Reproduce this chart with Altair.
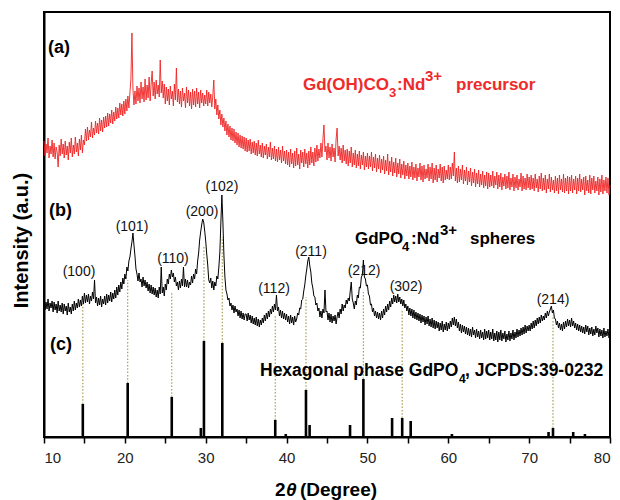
import altair as alt
import pandas as pd

FONT = "Liberation Sans, Arial, Helvetica, sans-serif"

# sampling grid of the two measured patterns: 10.000 ... 80.000 deg, 0.125 deg step
two_theta = [10 + 0.125 * i for i in range(561)]

# (a) Gd(OH)CO3:Nd3+ precursor, intensity (a.u.), one row per 5 degrees
precursor = (
    [296, 281, 293, 284, 299, 279, 291, 283, 297, 280, 294, 278, 290, 285, 270, 292, 281, 298, 283, 293,
     279, 296, 282, 291, 277, 295, 284, 299, 280, 292, 283, 300, 285, 294, 281, 298, 287, 302, 284, 297]
    + [292, 308, 296, 310, 297, 307, 300, 315, 299, 309, 302, 316, 304, 314, 303, 319, 306, 317, 305, 320,
       309, 321, 310, 324, 311, 323, 314, 327, 313, 325, 316, 330, 318, 329, 319, 334, 322, 333, 321, 336]
    + [323, 338, 326, 341, 329, 344, 358, 404, 348, 332, 346, 333, 351, 336, 349, 334, 355, 338, 350, 335,
       358, 337, 352, 339, 360, 336, 353, 366, 341, 355, 338, 357, 343, 352, 340, 377, 344, 356, 339, 353]
    + [333, 350, 336, 348, 332, 351, 338, 346, 331, 353, 337, 369, 335, 348, 333, 346, 330, 349, 336, 344,
       329, 350, 334, 347, 331, 345, 328, 348, 332, 346, 330, 349, 333, 345, 329, 347, 334, 344, 331, 342]
    + [333, 347, 331, 345, 334, 343, 330, 341, 357, 328, 338, 322, 332, 318, 327, 312, 323, 310, 319, 306,
       316, 302, 313, 300, 311, 297, 309, 296, 308, 294, 305, 292, 304, 290, 302, 289, 301, 288, 300, 286]
    + [299, 285, 297, 286, 298, 283, 295, 284, 296, 282, 294, 281, 297, 283, 292, 280, 294, 279, 291, 282,
       293, 278, 290, 280, 295, 277, 289, 278, 291, 276, 288, 275, 290, 277, 287, 274, 291, 276, 286, 273]
    + [287, 272, 285, 270, 288, 273, 284, 269, 286, 271, 289, 272, 283, 268, 287, 274, 285, 270, 288, 273,
       284, 269, 286, 272, 290, 274, 285, 271, 289, 275, 292, 276, 288, 279, 294, 280, 298, 312, 285, 291]
    + [277, 294, 279, 290, 276, 293, 280, 289, 275, 298, 309, 281, 291, 277, 289, 274, 292, 276, 287, 273,
       288, 271, 286, 274, 290, 270, 284, 272, 287, 269, 283, 271, 286, 268, 282, 272, 285, 267, 281, 270]
    + [284, 268, 281, 270, 285, 266, 280, 269, 283, 265, 279, 268, 282, 264, 278, 267, 281, 263, 277, 266,
       283, 262, 276, 265, 280, 261, 275, 264, 279, 260, 274, 263, 278, 259, 273, 262, 276, 258, 272, 261]
    + [274, 258, 271, 260, 275, 257, 270, 259, 273, 256, 269, 260, 274, 257, 271, 255, 272, 258, 268, 259,
       273, 256, 270, 258, 274, 254, 269, 257, 272, 255, 268, 259, 273, 256, 270, 254, 271, 257, 267, 258]
    + [272, 257, 270, 258, 274, 261, 285, 256, 269, 254, 271, 255, 268, 257, 272, 253, 267, 256, 270, 252,
       266, 255, 269, 251, 265, 254, 268, 250, 264, 253, 267, 250, 263, 252, 266, 249, 262, 251, 265, 248]
    + [264, 250, 262, 251, 266, 249, 261, 252, 265, 248, 262, 250, 264, 247, 260, 251, 263, 248, 261, 249,
       265, 247, 259, 250, 263, 246, 260, 249, 262, 247, 258, 250, 264, 246, 261, 248, 259, 247, 263, 249]
    + [260, 247, 262, 248, 259, 246, 263, 249, 258, 245, 261, 248, 264, 246, 259, 247, 262, 244, 258, 248,
       263, 245, 260, 247, 257, 244, 261, 246, 259, 243, 262, 247, 258, 245, 263, 244, 259, 246, 261, 243]
    + [260, 246, 262, 244, 258, 247, 261, 243, 259, 246, 263, 245, 258, 247, 260, 242, 261, 246, 257, 244,
       262, 243, 259, 247, 261, 244, 256, 246, 260, 242, 258, 245, 262, 243, 257, 246, 260, 244, 259, 242]
    + [252]
)

# (b) GdPO4:Nd3+ spheres
spheres = (
    [137, 127, 135, 128, 138, 126, 134, 129, 136, 125, 135, 127, 133, 124, 136, 126, 132, 125, 134, 123,
     133, 126, 131, 122, 134, 125, 130, 123, 133, 126, 136, 127, 134, 129, 138, 130, 137, 131, 141, 133]
    + [144, 134, 142, 135, 143, 133, 141, 136, 145, 138, 157, 134, 140, 131, 139, 132, 141, 130, 138, 133,
       141, 132, 143, 134, 142, 136, 145, 135, 144, 138, 147, 139, 150, 142, 152, 145, 155, 148, 159, 153]
    + [163, 158, 170, 166, 176, 180, 188, 195, 204, 192, 181, 168, 163, 156, 164, 155, 158, 150, 160, 151,
       157, 149, 155, 146, 153, 144, 152, 143, 150, 142, 149, 140, 147, 139, 150, 143, 170, 144, 150, 141]
    + [153, 147, 158, 153, 163, 158, 167, 160, 164, 155, 160, 151, 155, 147, 156, 149, 158, 151, 170, 150,
       158, 150, 157, 149, 155, 152, 161, 154, 163, 158, 168, 163, 176, 184, 197, 205, 212, 218, 215, 206]
    + [196, 183, 172, 157, 154, 159, 149, 156, 147, 155, 151, 161, 158, 170, 185, 215, 242, 215, 182, 160,
       147, 143, 137, 139, 131, 134, 127, 132, 124, 131, 125, 128, 121, 127, 119, 126, 118, 124, 117, 123]
    + [123, 116, 124, 117, 122, 114, 121, 113, 119, 112, 120, 111, 118, 110, 117, 112, 119, 114, 122, 116,
       124, 118, 126, 120, 128, 123, 131, 125, 133, 127, 142, 126, 130, 121, 127, 119, 126, 118, 124, 117]
    + [123, 115, 121, 113, 122, 114, 120, 112, 121, 115, 118, 124, 122, 129, 128, 137, 138, 146, 152, 161,
       168, 176, 180, 171, 165, 154, 149, 141, 140, 132, 134, 126, 129, 120, 126, 119, 128, 124, 147, 125]
    + [126, 117, 124, 115, 123, 114, 121, 116, 122, 113, 120, 125, 119, 128, 123, 133, 126, 132, 129, 137,
       133, 139, 136, 146, 155, 138, 134, 128, 136, 132, 142, 139, 150, 149, 160, 162, 177, 160, 158, 151]
    + [152, 143, 141, 132, 133, 125, 129, 121, 126, 119, 125, 118, 124, 117, 126, 119, 128, 122, 131, 125,
       133, 127, 136, 130, 139, 133, 142, 135, 141, 134, 143, 135, 140, 133, 138, 131, 137, 129, 133, 126]
    + [131, 122, 129, 121, 128, 119, 127, 118, 125, 117, 124, 116, 123, 114, 122, 115, 121, 112, 120, 113,
       121, 111, 118, 110, 119, 109, 117, 108, 116, 109, 115, 106, 114, 107, 116, 105, 113, 107, 115, 106]
    + [114, 108, 116, 110, 119, 112, 120, 111, 118, 109, 115, 106, 113, 104, 112, 105, 111, 103, 110, 102,
       109, 101, 108, 100, 110, 102, 107, 99, 108, 100, 106, 98, 107, 99, 105, 97, 108, 98, 106, 99]
    + [107, 97, 105, 98, 108, 96, 104, 97, 106, 95, 105, 97, 107, 96, 104, 98, 106, 95, 103, 97,
       106, 96, 104, 98, 107, 97, 105, 99, 108, 100, 107, 101, 109, 102, 110, 103, 112, 104, 111, 106]
    + [112, 106, 114, 108, 116, 109, 117, 111, 119, 113, 120, 114, 122, 116, 121, 117, 124, 119, 126, 121,
       125, 128, 131, 124, 127, 119, 118, 112, 116, 109, 114, 107, 113, 106, 115, 108, 116, 110, 118, 111]
    + [117, 110, 119, 111, 116, 109, 114, 107, 113, 106, 112, 105, 111, 104, 110, 103, 112, 105, 111, 102,
       109, 103, 110, 101, 108, 102, 111, 104, 109, 100, 108, 101, 107, 99, 109, 100, 106, 101, 108, 99]
    + [104]
)

# (c) JCPDS 39-0232 reference lines
stick_pos = [14.8, 20.35, 25.8, 29.4, 29.78, 32.05, 38.6, 39.9, 42.4, 42.85, 47.85,
             49.5, 53.05, 54.3, 55.35, 60.45, 63.25, 72.4, 72.95, 75.45, 76.9]
stick_int = [33, 54, 40, 9, 96, 94, 17, 3, 47, 12, 12, 58, 19, 19, 16, 3, 1, 5, 9, 5, 3]

# hkl indexing
hkl_text = ["(100)", "(101)", "(110)", "(200)", "(102)", "(112)", "(211)", "(212)", "(302)", "(214)"]
hkl_x = [14.33, 20.88, 25.95, 29.54, 32.01, 38.45, 43.02, 49.58, 54.77, 72.95]
hkl_y = [165, 210, 178, 225, 250, 148, 185, 166, 150, 137]
guide_x = [14.8, 20.35, 25.8, 29.78, 32.05, 38.6, 42.4, 49.5, 54.3, 72.95]
guide_top = [135, 157, 144, 190, 200, 122, 140, 145, 127, 120]
guide_bottom = [33, 54, 40, 96, 94, 17, 47, 58, 19, 9]

tick_values = [10, 15, 20, 25, 30, 35, 40, 45, 50, 55, 60, 65, 70, 75, 80]

assert len(precursor) == 561 and len(spheres) == 561

# ---------------------------------------------------------------
X0_PX, X1_PX, BASE_PX = 44.0, 610.0, 437.0
PX_PER_DEG = (X1_PX - X0_PX) / 70.0


def px2deg(px):
    return 10 + (px - X0_PX) / PX_PER_DEG


def px2int(py):
    return BASE_PX - py


xs = alt.Scale(domain=[10, 80], nice=False, zero=False)
ys = alt.Scale(domain=[0, 425], nice=False, zero=False)
xaxis = alt.Axis(
    title=None, values=tick_values,
    labelExpr="datum.value % 10 === 0 ? datum.label : ''",
    tickSize=6, tickWidth=1.5, tickColor="black",
    labelFont=FONT, labelFontSize=15, labelColor="#222222", labelPadding=7,
    grid=False, domainColor="black", domainWidth=2,
)
yaxis = alt.Axis(
    title="Intensity (a.u.)", labels=False, ticks=False, grid=False,
    domainColor="black", domainWidth=2,
    titleFont=FONT, titleFontSize=20, titleFontWeight="bold", titleColor="black",
    titlePadding=13, titleY=228,
)
X = alt.X("x:Q", scale=xs, axis=xaxis)
Y = alt.Y("y:Q", scale=ys, axis=yaxis)

df_a = pd.DataFrame({"x": two_theta, "y": precursor})
df_b = pd.DataFrame({"x": two_theta, "y": spheres})
df_s = pd.DataFrame({"x": stick_pos, "y": [0] * len(stick_pos), "y2": stick_int})
df_g = pd.DataFrame({"x": guide_x, "y": guide_bottom, "y2": guide_top})
df_h = pd.DataFrame({"x": hkl_x, "y": hkl_y, "t": hkl_text})

layers = []

layers.append(
    alt.Chart(df_g).mark_rule(color="#a59f52", strokeWidth=1.2, strokeDash=[1.5, 1.8])
    .encode(x=X, y=Y, y2="y2:Q")
)
layers.append(
    alt.Chart(df_s).mark_rule(color="black", strokeWidth=2.6).encode(x=X, y=Y, y2="y2:Q")
)
layers.append(
    alt.Chart(df_a).mark_line(color="#ee2222", strokeWidth=0.9).encode(x=X, y=Y)
)
layers.append(
    alt.Chart(df_b).mark_line(color="#000000", strokeWidth=1.0).encode(x=X, y=Y)
)
layers.append(
    alt.Chart(df_h).mark_text(font=FONT, fontSize=14, color="#111111", align="center", baseline="middle")
    .encode(x=X, y=Y, text="t:N")
)

# rich-text annotations: (text, left px, baseline px, size, colour, style)
RED = "#ee2a2a"
segments = [
    ("(a)", 48, 53, 18, "black", "normal"),
    ("(b)", 49, 216, 18, "black", "normal"),
    ("(c)", 50, 350, 18, "black", "normal"),
    ("Gd(OH)CO", 303, 90, 17, RED, "normal"),
    ("3", 389, 97, 13, RED, "normal"),
    (":Nd", 397, 90, 17, RED, "normal"),
    ("3+", 425, 81, 15, RED, "normal"),
    ("precursor", 456, 90, 17, RED, "normal"),
    ("GdPO", 355, 243.5, 17, "black", "normal"),
    ("4", 402, 251, 13, "black", "normal"),
    (":Nd", 411, 243.5, 17, "black", "normal"),
    ("3+", 440, 235, 15, "black", "normal"),
    ("spheres", 470, 243.5, 17, "black", "normal"),
    ("Hexagonal phase GdPO", 260, 376, 17.5, "black", "normal"),
    ("4", 459, 383, 12, "black", "normal"),
    (", JCPDS:39-0232", 465, 376, 17.5, "black", "normal"),
    ("2", 275, 496, 19, "black", "normal"),
    ("\u03b8", 286, 496, 19, "black", "italic"),
    ("(Degree)", 300, 496, 19, "black", "normal"),
]
for text, px, py, size, color, style in segments:
    d = pd.DataFrame({"x": [px2deg(px)], "y": [px2int(py)], "t": [text]})
    layers.append(
        alt.Chart(d).mark_text(
            font=FONT, fontSize=size, fontWeight="bold", fontStyle=style,
            color=color, align="left", baseline="alphabetic",
        ).encode(x=X, y=Y, text="t:N")
    )

chart = (
    alt.layer(*layers)
    .properties(
        width=566, height=425,
        padding={"left": 36, "top": 4, "right": 2, "bottom": 63},
        autosize=alt.AutoSizeParams(type="none"),
        background="white",
    )
    .configure_view(stroke="black", strokeWidth=2)
)

chart.save("out.html", embed_options={"renderer": "svg", "actions": False})
